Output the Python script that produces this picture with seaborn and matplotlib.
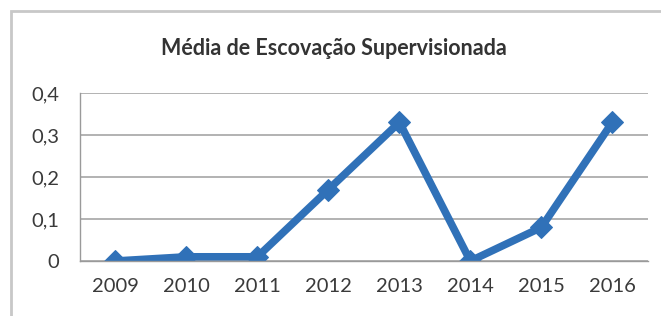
import matplotlib
matplotlib.use("Agg")
import matplotlib.pyplot as plt
import seaborn as sns
import pandas as pd
from matplotlib.patches import Rectangle

years = ["2009", "2010", "2011", "2012", "2013", "2014", "2015", "2016"]
values = [0.0, 0.01, 0.01, 0.17, 0.33, 0.0, 0.08, 0.33]
yticks = [0, 0.1, 0.2, 0.3, 0.4]
ytick_labels = ["0", "0,1", "0,2", "0,3", "0,4"]
title = "Média de Escovação Supervisionada"

sns.set_style("white")
plt.rcParams['font.family'] = ['Lato', 'DejaVu Sans']

df = pd.DataFrame({"ano": years, "media": values})

fig = plt.figure(figsize=(6.61, 3.16), dpi=100)
ax = fig.add_axes([0.121, 0.174, 0.859, 0.532])

color = "#3071b8"
sns.lineplot(data=df, x="ano", y="media", ax=ax, color=color, linewidth=5.5,
             marker="D", markersize=11, markeredgecolor=color, sort=False)

ax.set_xlim(-0.5, len(years) - 0.5)
ax.set_ylim(0, 0.4)
ax.set_yticks(yticks)
ax.set_yticklabels(ytick_labels)
ax.set_xlabel("")
ax.set_ylabel("")
ax.yaxis.grid(True, color="#a6a6a6", linewidth=1.2)
ax.set_axisbelow(True)
for s in ["top", "right"]:
    ax.spines[s].set_visible(False)
for s in ["left", "bottom"]:
    ax.spines[s].set_color("#9a9a9a")
    ax.spines[s].set_linewidth(1.0)

ax.set_xticks(range(len(years)))
ax.set_xticks([i - 0.5 for i in range(len(years) + 1)], minor=True)
ax.tick_params(axis="x", which="major", length=0, labelsize=14.5, colors="#3a3a3a", pad=12)
ax.tick_params(axis="x", which="minor", length=5, color="#9a9a9a", direction="out")
ax.tick_params(axis="y", which="major", length=5, color="#9a9a9a", labelsize=14.5,
               labelcolor="#3a3a3a", pad=10)

fig.text(0.505, 0.845, title, ha="center", va="center", fontsize=15.5,
         fontweight="bold", color="#333333")

fig.patches.append(Rectangle((11 / 661, -0.1), 1.1, 1 - 11 / 316 + 0.1,
                             transform=fig.transFigure, fill=False,
                             edgecolor="#c8c8c8", linewidth=2.0))

fig.savefig("out.png", dpi=100)
